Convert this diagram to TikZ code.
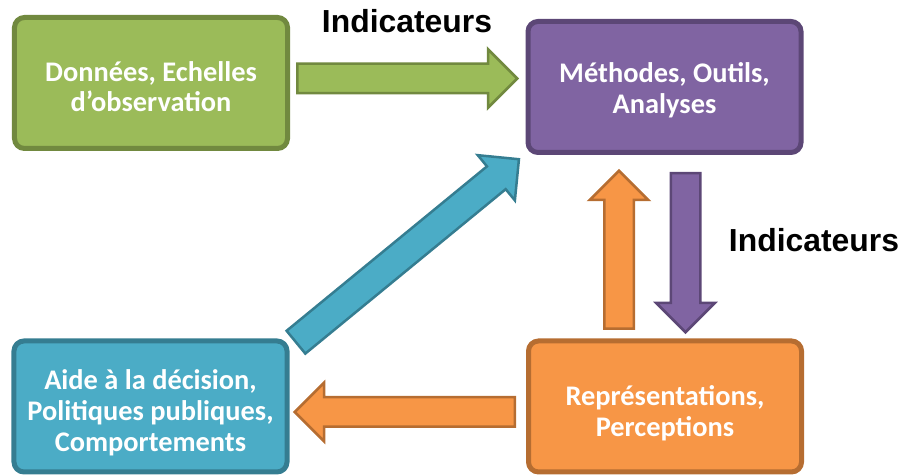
\documentclass[tikz,border=0pt]{standalone}
\usepackage{fontspec}
\setmainfont{Carlito}
\newfontfamily\labelfont{Liberation Sans}
\usetikzlibrary{shapes.arrows,calc}

\definecolor{greenfill}{HTML}{9BBB59}
\definecolor{greenline}{HTML}{71893F}
\definecolor{purplefill}{HTML}{8064A2}
\definecolor{purpleline}{HTML}{5C4776}
\definecolor{tealfill}{HTML}{4BACC6}
\definecolor{tealline}{HTML}{357D91}
\definecolor{orangefill}{HTML}{F79646}
\definecolor{orangeline}{HTML}{B66D31}

% block arrow from #1 to #2, colour family #3
\newcommand{\blockarrow}[3]{%
  \path let \p1=(#1), \p2=(#2),
    \n1={atan2(\y2-\y1,\x2-\x1)}, \n2={veclen(\x2-\x1,\y2-\y1)} in
    node[fatarrow, fill=#3fill, draw=#3line, minimum height=\n2, rotate=\n1,
      anchor=tail] at (#1) {};%
}

\begin{document}
\begin{tikzpicture}[
  x=1bp, y=1bp,
  box/.style={
    draw, line width=5bp, rectangle, rounded corners=10bp,
    minimum width=273bp, minimum height=131bp,
    text=white, align=center, inner sep=4bp,
    font=\bfseries\fontsize{28.5}{31}\selectfont,
    execute at begin node={\rule{0pt}{#1}}
  },
  box/.default=58bp,
  fatarrow/.style={
    single arrow, line width=2.5bp, inner xsep=0pt, inner ysep=13.5bp,
    single arrow head extend=14.5bp,
    single arrow tip angle=90, single arrow head indent=0pt
  },
  lbl/.style={font=\labelfont\bfseries\fontsize{32}{38}\selectfont, anchor=base},
]
\useasboundingbox (0,0) rectangle (904,475);

\node[box, fill=greenfill, draw=greenline]        (donnees)  at (151, 392)   {Données, Echelles\\d’observation};
\node[box, fill=purplefill, draw=purpleline]      (methodes) at (664.5, 388) {Méthodes, Outils,\\Analyses};
\node[box=95bp, fill=tealfill, draw=tealline]     (aide)     at (150.5, 68.5) {Aide à la décision,\\Politiques publiques,\\Comportements};
\node[box=64bp, fill=orangefill, draw=orangeline] (repres)   at (665, 68.5)  {Représentations,\\Perceptions};

\node[lbl] (indtop)   at (407, 442) {Indicateurs};
\node[lbl] (indright) at (814, 223) {Indicateurs};

% arrow ends
\coordinate (g0) at (296, 396.5);  \coordinate (g1) at (516, 396.5);
\coordinate (p0) at (685.5, 303);  \coordinate (p1) at (685.5, 144);
\coordinate (o0) at (619, 145);    \coordinate (o1) at (619, 303);
\coordinate (l0) at (516, 63);     \coordinate (l1) at (296, 63);
\coordinate (t0) at (295, 132);    \coordinate (t1) at (518, 315);

\blockarrow{g0}{g1}{green}
\blockarrow{p0}{p1}{purple}
\blockarrow{o0}{o1}{orange}
\blockarrow{l0}{l1}{orange}
\blockarrow{t0}{t1}{teal}

\end{tikzpicture}
\end{document}
